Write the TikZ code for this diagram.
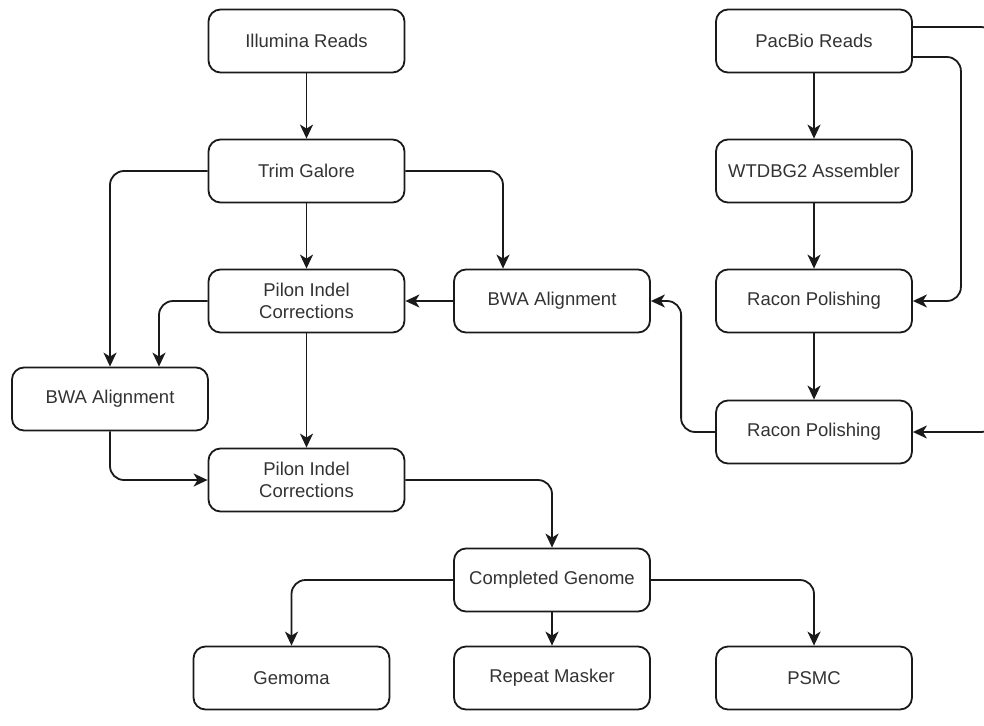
\documentclass[tikz,border=0pt]{standalone}
\usepackage{fontspec}
\setmainfont{Liberation Sans}
\usetikzlibrary{arrows.meta}
\definecolor{txt}{HTML}{333333}
\definecolor{ln}{HTML}{1A1A1A}
\begin{document}
\begin{tikzpicture}[x=1pt,y=-1pt,
  box/.style={draw=ln, line width=1.8pt, rounded corners=12pt, minimum width=196pt, minimum height=63pt,
    inner sep=2pt, align=center, text=txt, font=\fontsize{18.5}{22}\selectfont},
  conn/.style={draw=ln, line width=1.8pt, rounded corners=14pt, -{Stealth[length=14pt,width=13pt,inset=4pt]}}]
\useasboundingbox[fill=white] (0,0) rectangle (984,725);
\node[box] (ill) at (306.5,41) {Illumina Reads};
\node[box] (trim) at (306.5,171) {Trim Galore};
\node[box] (p1) at (306.5,301) {Pilon Indel\\Corrections};
\node[box] (bwar) at (552,301) {BWA Alignment};
\node[box] (bwal) at (110,399) {BWA Alignment};
\node[box] (p2) at (306.5,480) {Pilon Indel\\Corrections};
\node[box] (cg) at (552,580) {Completed Genome};
\node[box] (gem) at (291.5,678) {Gemoma};
\node[box] (rm) at (552,678) {Repeat Masker};
\node[box] (psmc) at (814,678) {PSMC};
\node[box] (pb) at (814,41) {PacBio Reads};
\node[box] (wt) at (814,171) {WTDBG2 Assembler};
\node[box] (rc1) at (814,301) {Racon Polishing};
\node[box] (rc2) at (814,432) {Racon Polishing};
\draw[conn] (ill) -- (trim);
\draw[conn] (trim) -- (p1);
\draw[conn] (trim.west) -| (bwal.north);
\draw[conn] (trim.east) -| ([xshift=-49pt]bwar.north);
\draw[conn] (bwar) -- (p1);
\draw[conn] (p1.west) -| ([xshift=49pt]bwal.north);
\draw[conn] (p1) -- (p2);
\draw[conn] (bwal.south) |- (p2.west);
\draw[conn] (p2.east) -| (cg.north);
\draw[conn] (cg.west) -| (gem.north);
\draw[conn] (cg) -- (rm);
\draw[conn] (cg.east) -| (psmc.north);
\draw[conn] (pb) -- (wt);
\draw[conn] (wt) -- (rc1);
\draw[conn] (rc1) -- (rc2);
\draw[conn] ([yshift=14pt]pb.east) -- ++(82,0) |- (rc2.east);
\draw[conn] ([yshift=-16pt]pb.east) -- ++(48,0) |- (rc1.east);
\draw[conn] (rc2.west) -- ++(-34,0) |- (bwar.east);
\end{tikzpicture}
\end{document}
